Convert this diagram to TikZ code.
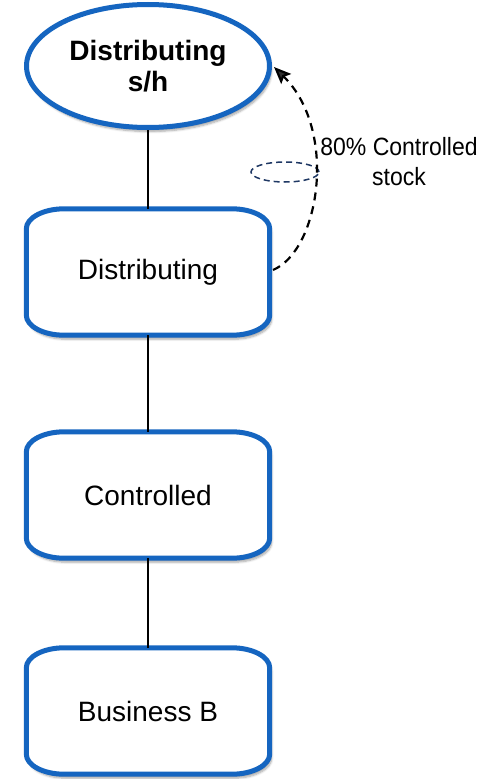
\documentclass[tikz,border=0pt]{standalone}
\usepackage{fontspec}
\setmainfont{Liberation Sans}
\usetikzlibrary{shapes.geometric,shadows.blur,arrows.meta}
\definecolor{boxblue}{RGB}{21,101,192}
\definecolor{navy}{RGB}{31,56,100}
\pgfdeclarelayer{background}
\pgfsetlayers{background,main}
\tikzset{
  myshadow/.style={blur shadow={shadow blur steps=6, shadow xshift=2pt, shadow yshift=-4pt, shadow opacity=35}},
  entity/.style={minimum width=243pt, minimum height=126pt, align=center,
    font=\fontsize{28}{31}\selectfont},
  outline/.style={draw=boxblue, line width=5pt, fill=white, myshadow},
  topentity/.style={ellipse, draw=boxblue, line width=5pt, fill=white,
    minimum width=243pt, minimum height=123pt, inner sep=0pt, align=center,
    font=\fontsize{28}{31}\selectfont\bfseries, myshadow},
  link/.style={line width=1.5pt, black},
  control/.style={line width=2.2pt, dash pattern=on 8pt off 6pt},
  marker/.style={ellipse, draw=navy, line width=1.5pt, dash pattern=on 6pt off 4pt,
    minimum width=68pt, minimum height=20pt, inner sep=0pt},
  lbl/.style={align=center, font=\fontsize{25}{30}\selectfont}
}
\newcommand{\boxoutline}[1]{%
  \begin{pgfonlayer}{background}
  \path[outline] ([yshift=-20pt]#1.north west) .. controls ([yshift=-9pt]#1.north west) and ([xshift=17pt]#1.north west) .. ([xshift=38pt]#1.north west)
    -- ([xshift=-38pt]#1.north east) .. controls ([xshift=-17pt]#1.north east) and ([yshift=-9pt]#1.north east) .. ([yshift=-20pt]#1.north east)
    -- ([yshift=20pt]#1.south east) .. controls ([yshift=9pt]#1.south east) and ([xshift=-17pt]#1.south east) .. ([xshift=-38pt]#1.south east)
    -- ([xshift=38pt]#1.south west) .. controls ([xshift=17pt]#1.south west) and ([yshift=9pt]#1.south west) .. ([yshift=20pt]#1.south west)
    -- cycle;
  \end{pgfonlayer}}
\begin{document}
\begin{tikzpicture}[x=1pt,y=-1pt]
\useasboundingbox (0,0) rectangle (500,779);
\node[topentity] (dsh) at (148,66) {Distributing\\s/h};
\node[entity] (dist) at (148,272) {Distributing};
\node[entity] (ctrl) at (148,495) {Controlled};
\node[entity] (bus) at (148,711) {Business B};
\boxoutline{dist}
\boxoutline{ctrl}
\boxoutline{bus}
\draw[link] (dsh) -- (dist);
\draw[link] (dist) -- (ctrl);
\draw[link] (ctrl) -- (bus);
\node[marker] (mk) at (285,172) {};
\coordinate (cs) at (273,270);
\coordinate (c1) at (320,250);
\coordinate (c2) at (338,130);
\coordinate (ce) at (274,67);
\begin{scope}[x=1pt,y=1pt]
\draw[control, -{Stealth[length=17pt,width=14pt,inset=3pt]}] (cs) .. controls (c1) and (c2) .. (ce);
\end{scope}
\node[lbl] (lab) at (399,162) {\scalebox{0.92}[1]{80\% Controlled}\\\scalebox{0.92}[1]{stock}};
\end{tikzpicture}
\end{document}
